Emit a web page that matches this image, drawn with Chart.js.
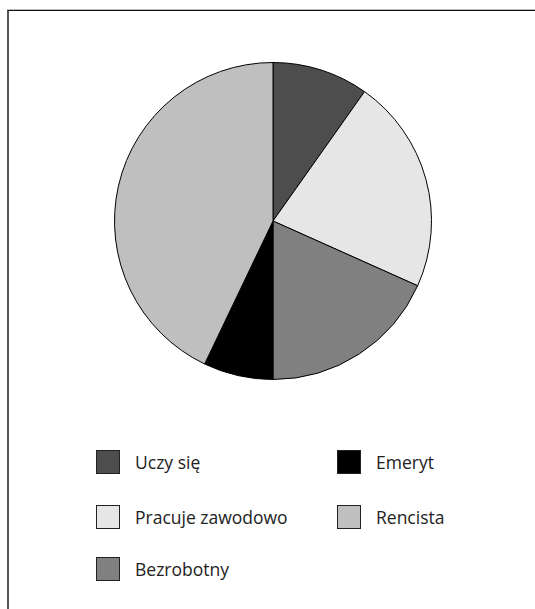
<!DOCTYPE html>
<html>
<head>
<meta charset="utf-8">
<script src="https://cdn.jsdelivr.net/npm/chart.js@4"></script>
<style>
  body { margin: 0; background: #fff; width: 535px; height: 609px; overflow: hidden; position: relative; font-family: "Open Sans", "Noto Sans", sans-serif; }
  #frame { position: absolute; left: 7px; top: 10px; right: 0; bottom: 0; border-top: 1px solid #111; border-left: 2px solid #555; box-shadow: 0 -1px 0 #bbb; }
  #pieBox { position: absolute; left: 114px; top: 62px; width: 318px; height: 318px; }
  .item { position: absolute; height: 24px; display: flex; align-items: center; font-size: 17.5px; color: #222; }
  .sw { width: 22px; height: 22px; border: 1px solid #222; margin-right: 15px; }
</style>
</head>
<body>
<div id="frame"></div>
<div id="pieBox"><canvas id="pie"></canvas></div>
<div id="legend"></div>
<script>
// kategorie i udziały (%)
const categories = ["Uczy się", "Pracuje zawodowo", "Bezrobotny", "Emeryt", "Rencista"];
const shares = [9.8, 21.9, 18.3, 7.1, 42.9];
const colors = ["#4d4d4d", "#e6e6e6", "#808080", "#000000", "#bfbfbf"];

// legenda: dwie kolumny, wypełniane kolumnami
const legendCols = [96, 337];
const legendRows = [450, 505, 557];

const pieChart = new Chart(document.getElementById("pie"), {
  type: "pie",
  data: {
    labels: categories,
    datasets: [{
      data: shares,
      backgroundColor: colors,
      borderColor: "#000",
      borderWidth: 1
    }]
  },
  options: {
    responsive: true,
    maintainAspectRatio: false,
    animation: false,
    layout: { padding: 0 },
    plugins: { legend: { display: false }, tooltip: { enabled: false } }
  }
});

// legenda HTML z danych wykresu
const legend = document.getElementById("legend");
pieChart.data.labels.forEach((label, i) => {
  const col = Math.floor(i / legendRows.length);
  const row = i % legendRows.length;
  const item = document.createElement("div");
  item.className = "item";
  item.style.left = legendCols[col] + "px";
  item.style.top = legendRows[row] + "px";
  const sw = document.createElement("span");
  sw.className = "sw";
  sw.style.background = pieChart.data.datasets[0].backgroundColor[i];
  const txt = document.createElement("span");
  txt.textContent = label;
  item.appendChild(sw);
  item.appendChild(txt);
  legend.appendChild(item);
});
</script>
</body>
</html>
